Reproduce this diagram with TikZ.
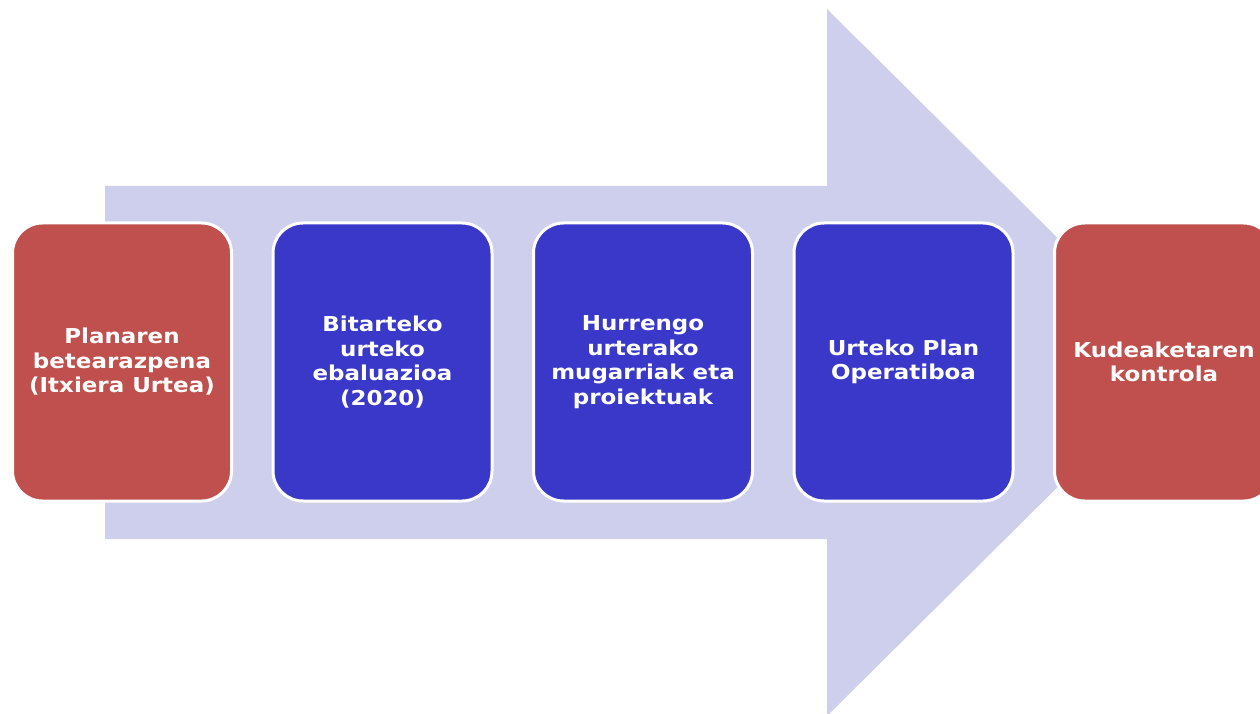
\documentclass[tikz,border=0pt]{standalone}
\usepackage{fontspec}
\setmainfont{DejaVu Sans}
\newfontfamily\boxfont{DejaVu Sans}[FakeStretch=1.12]
\usepackage{tikz}
\usetikzlibrary{positioning}
\definecolor{stepred}{HTML}{C0504D}
\definecolor{stepblue}{HTML}{3A38C9}
\definecolor{arrowfill}{HTML}{CDCFEC}
\tikzset{stepbox/.style={draw=white, line width=3pt, rounded corners=30pt,
  minimum width=219pt, minimum height=278pt, align=center, text=white,
  font=\boxfont\bfseries\fontsize{20.5}{24.5}\selectfont}}
\tikzset{redbox/.style={stepbox, fill=stepred}}
\tikzset{bluebox/.style={stepbox, fill=stepblue}}

\begin{document}
\begin{tikzpicture}[x=1pt, y=1pt]
  \useasboundingbox (0,0) rectangle (1260,713);
  % big background arrow
  \fill[arrowfill] (105,174) -- (105,527) -- (827,527) -- (827,704)
    -- (1183,350.5) -- (827,-3) -- (827,174) -- cycle;
  \node[redbox] (plan) at (122,351) {Planaren\\betearazpena\\(Itxiera Urtea)};
  \node[bluebox, right=38.5pt of plan] (ebal) {Bitarteko\\urteko\\ebaluazioa\\(2020)};
  \node[bluebox, right=38.5pt of ebal] (mugar) {Hurrengo\\urterako\\mugarriak eta\\proiektuak};
  \node[bluebox, right=38.5pt of mugar] (oper) {Urteko Plan\\Operatiboa};
  \node[redbox, right=38.5pt of oper] (kontrol) {Kudeaketaren\\kontrola};
\end{tikzpicture}
\end{document}
